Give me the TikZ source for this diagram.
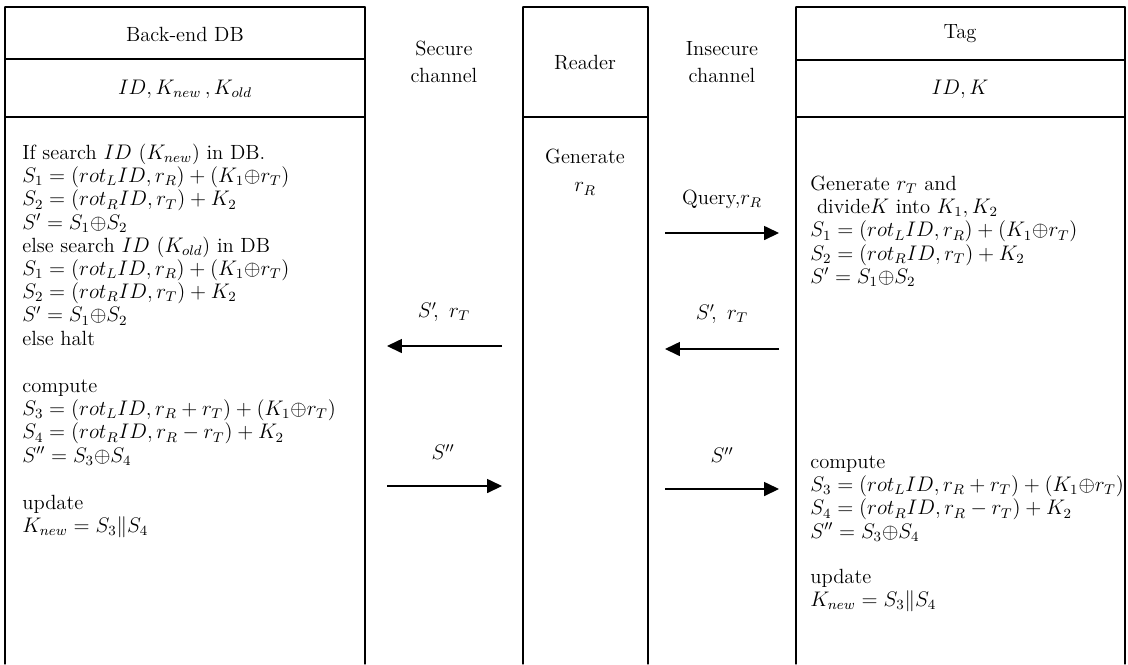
\documentclass[tikz,border=0pt]{standalone}
\usepackage{amsfonts,amsmath,amssymb}
\usepackage{tkz-euclide}
\usetikzlibrary{calc}
\usetikzlibrary{positioning}
\usetikzlibrary{arrows.meta}

\newcommand{\bodysize}{\fontsize{11.7}{13.2}\selectfont}

\begin{document}
\begin{tikzpicture}[x=0.02cm,y=-0.02cm,
    lbl/.style={inner sep=0pt,font=\bodysize,align=center},
    calc/.style={inner sep=0pt,font=\bodysize,align=left,anchor=north west},
    msg/.style={line width=.7pt,-{Triangle[length=8.5pt,width=8pt]}}]
      \useasboundingbox (0,0) rectangle (1128,664);

      \tkzDefPoints{5/7/A,365/7/B,365/664/C,5/664/D,5/59/E,365/59/F,5/117/G,365/117/H}
      \tkzDefPoints{523/7/R1,648/7/R2,648/664/R3,523/664/R4,523/117/R5,648/117/R6}
      \tkzDefPoints{796/7/T1,1125/7/T2,1125/664/T3,796/664/T4,796/60/T5,1125/60/T6,796/117/T7,1125/117/T8}

      \tkzDrawSegments[line width=.7pt](D,A A,B B,C E,F G,H)
      \tkzDrawSegments[line width=.7pt](R4,R1 R1,R2 R2,R3 R5,R6)
      \tkzDrawSegments[line width=.7pt](T4,T1 T1,T2 T2,T3 T5,T6 T7,T8)

      % back-end database
      \node[lbl] (dbName) at (185,34) {Back-end DB};
      \node[lbl] (dbKeys) at (185,89) {$ID, K_{new}\,, K_{old}$};
      \node[calc] (dbCalcA) at (22,143) {\strut If search $ID$ ($K_{new}$) in DB.\\
        $S_1=(rot_{L}ID,r_R)+(K_1{\oplus}r_T)$\\
        $S_2=(rot_{R}ID,r_T)+K_2$\\
        $S'=S_1{\oplus}S_2$\\
        else search $ID$ ($K_{old}$) in DB\\
        $S_1=(rot_{L}ID,r_R)+(K_1{\oplus}r_T)$\\
        $S_2=(rot_{R}ID,r_T)+K_2$\\
        $S'=S_1{\oplus}S_2$\\
        else halt};
      \node[calc] (dbCalcB) at (22,376) {\strut compute\\
        $S_3=(rot_{L}ID,r_R+r_T)+(K_1{\oplus}r_T)$\\
        $S_4=(rot_{R}ID,r_R-r_T)+K_2$\\
        $S''=S_3{\oplus}S_4$};
      \node[calc] (dbUpd) at (22,493) {\strut update\\
        $K_{new}=S_3\| S_4$};

      % reader
      \node[lbl] (rdName) at (585,63) {Reader};
      \node[lbl] (rdGen) at (585,172) {Generate\\[3pt] $r_R$};

      % tag
      \node[lbl] (tagName) at (960,34) {Tag};
      \node[lbl] (tagKeys) at (960,89) {$ID, K$};
      \node[calc] (tagCalcA) at (810,174) {\strut Generate $r_T$ and\\
        \ divide$K$ into $K_1,K_2$\\
        $S_1=(rot_{L}ID,r_R)+(K_1{\oplus}r_T)$\\
        $S_2=(rot_{R}ID,r_T)+K_2$\\
        $S'=S_1{\oplus}S_2$};
      \node[calc] (tagCalcB) at (810,452) {\strut compute\\
        $S_3=(rot_{L}ID,r_R+r_T)+(K_1{\oplus}r_T)$\\
        $S_4=(rot_{R}ID,r_R-r_T)+K_2$\\
        $S''=S_3{\oplus}S_4$};
      \node[calc] (tagUpd) at (810,567) {\strut update\\
        $K_{new}=S_3\| S_4$};

      % channels
      \node[lbl] (secCh) at (444,62) {Secure\\[2pt] channel};
      \node[lbl] (insecCh) at (722,62) {Insecure\\[2pt] channel};

      \coordinate (qL) at (665,233);  \coordinate (qR) at (779,233);
      \coordinate (sTL) at (502,346); \coordinate (sTR) at (387,346);
      \coordinate (tTL) at (779,349); \coordinate (tTR) at (665,349);
      \coordinate (uL) at (387,486);  \coordinate (uR) at (502,486);
      \coordinate (vL) at (665,489);  \coordinate (vR) at (779,489);

      \draw[msg] (qL) -- (qR);
      \draw[msg] (sTL) -- (sTR);
      \draw[msg] (tTL) -- (tTR);
      \draw[msg] (uL) -- (uR);
      \draw[msg] (vL) -- (vR);

      \node[lbl] (qMsg) at (722,199) {Query,$r_R$};
      \node[lbl] (sMsgL) at (444,312) {$S'\!,\ r_T$};
      \node[lbl] (sMsgR) at (722,314) {$S'\!,\ r_T$};
      \node[lbl] (uMsgL) at (443,452) {$S''$};
      \node[lbl] (uMsgR) at (722,455) {$S''$};
    \end{tikzpicture}
\end{document}
